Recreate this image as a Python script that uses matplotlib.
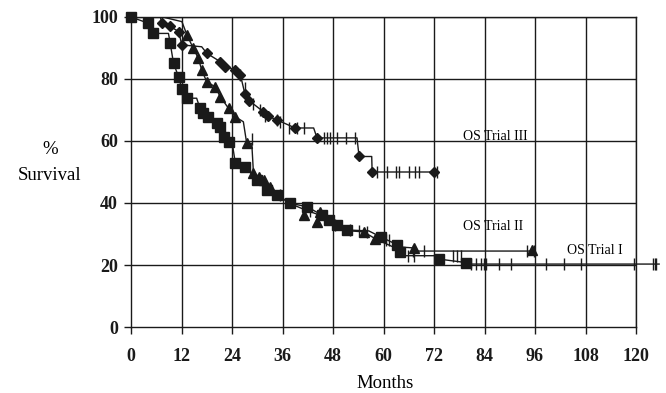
import matplotlib.pyplot as plt

# Trial I (squares): curve vertices, marked events, censor ticks
t1_months = [0, 4.1, 5.3, 8.9, 9.3, 10.1, 11.3, 12.1, 13.3, 15.6, 16.4, 17.2, 18.4, 20.4, 21.2, 22.0,
             23.2, 24.0, 24.8, 27.1, 29.9, 32.3, 34.7, 37.9, 41.8, 45.4, 47.0, 49.0, 51.3, 56.5,
             59.3, 63.3, 64.0, 65.0, 72.5, 73.2, 79.5, 80.0, 125.5]
t1_surv = [100, 98, 94.7, 94.7, 91.7, 85.1, 80.7, 76.7, 73.8, 73.8, 70.5, 68.9, 67.8, 65.7, 64.6, 61.4,
           59.8, 59.8, 52.8, 51.7, 47.4, 44.2, 42.6, 39.9, 38.8, 36.1, 34.5, 32.9, 31.3, 31.0,
           29.1, 26.5, 24.3, 23.0, 23.0, 21.9, 20.8, 20.3, 20.3]
t1_events = [0, 4.1, 5.3, 9.3, 10.1, 11.3, 12.1, 13.3, 16.4, 17.2, 18.4, 20.4, 21.2, 22.0, 23.2,
             24.8, 27.1, 29.9, 32.3, 34.7, 37.9, 41.8, 45.4, 47.0, 49.0, 51.3, 59.3, 63.3, 64.0,
             73.2, 79.5]
t1_events_surv = [100, 98, 94.7, 91.7, 85.1, 80.7, 76.7, 73.8, 70.5, 68.9, 67.8, 65.7, 64.6, 61.4, 59.8,
                  52.8, 51.7, 47.4, 44.2, 42.6, 39.9, 38.8, 36.1, 34.5, 32.9, 31.3, 29.1, 26.5, 24.3,
                  21.9, 20.8]
t1_cens = [35.5, 52.1, 54.1, 60.5, 61.2, 65.8, 67.2, 76.5, 77.5, 78.3, 80.7, 81.9, 83.1, 83.9, 84.3,
           87.5, 90.2, 98.6, 102.9, 106.9, 119.6, 124.0, 124.4, 124.8]
t1_cens_surv = [42.6, 31.3, 31.0, 28.0, 28.0, 23.0, 23.0, 23.0, 23.0, 23.0, 20.3, 20.3, 20.3, 20.3, 20.3,
                20.3, 20.3, 20.3, 20.3, 20.3, 20.3, 20.3, 20.3, 20.3]

# Trial II (triangles)
t2_months = [0, 7.5, 12.1, 13.3, 14.8, 16.0, 16.8, 18.0, 20.0, 21.2, 23.2, 24.8, 26.7, 27.5, 28.7,
             29.1, 30.3, 31.5, 33.0, 35.0, 37.5, 41.0, 45.0, 48.0, 52.0, 55.3, 58.0, 62.0, 67.2,
             67.5, 95.3]
t2_surv = [100, 100, 98.5, 94.2, 89.9, 86.7, 82.9, 79.1, 77.5, 74.3, 70.5, 67.8, 66.2, 59.2, 59.2,
           49.6, 48.5, 47.4, 45.0, 42.5, 40.0, 38.0, 36.0, 33.5, 31.0, 30.7, 28.5, 26.0, 25.5,
           24.5, 24.5]
t2_events = [13.3, 14.8, 16.0, 16.8, 18.0, 20.0, 21.2, 23.2, 24.8, 27.5, 29.1, 30.3, 31.5, 33.0,
             41.0, 44.2, 45.0, 55.3, 58.0, 67.2, 95.3]
t2_events_surv = [94.2, 89.9, 86.7, 82.9, 79.1, 77.5, 74.3, 70.5, 67.8, 59.2, 49.6, 48.5, 47.4, 45.0,
                  36.1, 34.0, 37.2, 30.7, 28.5, 25.5, 25.0]
t2_cens = [28.7, 42.5, 48.5, 56.0, 66.9, 69.6, 94.2, 95.8]
t2_cens_surv = [60.5, 37.5, 33.0, 30.8, 24.5, 24.5, 24.5, 24.5]

# Trial III (diamonds)
t3_months = [0, 7.0, 7.3, 9.3, 11.3, 12.1, 16.8, 18.0, 21.2, 22.4, 24.8, 26.0, 27.1, 28.1, 31.4,
             32.5, 34.7, 39.0, 43.4, 44.2, 53.7, 54.2, 57.2, 57.3, 72.8]
t3_surv = [100, 100, 98, 97, 95.3, 91, 90.4, 88.3, 85.6, 84, 83, 81.3, 75, 73, 69.5,
           68, 66.8, 64.2, 64.2, 61, 61, 55, 55, 50, 50]
t3_events = [7.3, 9.3, 11.3, 12.1, 18.0, 21.2, 22.4, 24.8, 26.0, 27.1, 28.1, 31.4, 32.5, 34.7,
             39.0, 44.2, 54.2, 57.3, 72.0]
t3_events_surv = [98, 97, 95.3, 91, 88.3, 85.6, 84, 83, 81.3, 75, 73, 69.5, 68, 66.8,
                  64.2, 61, 55, 50, 50]
t3_cens = [26.0, 27.0, 29.0, 30.7, 31.9, 34.7, 35.5, 37.5, 39.5, 41.0, 45.8, 46.6, 47.3, 49.0, 51.0,
           53.3, 58.5, 60.9, 62.9, 63.7, 66.0, 67.6, 68.4, 72.8]
t3_cens_surv = [81.3, 77, 72, 70, 68, 66.8, 66, 64.2, 64.2, 64.2, 61, 61, 61, 61, 61,
                61, 50, 50, 50, 50, 50, 50, 50, 50]

x_ticks = [0, 12, 24, 36, 48, 60, 72, 84, 96, 108, 120]
y_ticks = [0, 20, 40, 60, 80, 100]

col = '#1a1a1a'
plt.rcParams['font.family'] = ['Liberation Serif', 'DejaVu Serif']

fig = plt.figure(figsize=(6.66, 3.93), dpi=100)
ax = fig.add_axes([131 / 666, 66 / 393, 505 / 666, 310 / 393])

for v in x_ticks[1:]:
    ax.axvline(v, color=col, lw=1.0, zorder=1)
for v in y_ticks[1:]:
    ax.axhline(v, color=col, lw=1.0, zorder=1)

ax.plot(t1_months, t1_surv, color=col, lw=1.0, clip_on=False, zorder=3)
ax.plot(t1_events, t1_events_surv, 's', color=col, ms=6.5, clip_on=False, zorder=4)
ax.plot(t1_cens, t1_cens_surv, '|', color=col, ms=8, mew=1.0, clip_on=False, zorder=4)

ax.plot(t2_months, t2_surv, color=col, lw=1.0, zorder=3)
ax.plot(t2_events, t2_events_surv, '^', color=col, ms=6.5, zorder=4)
ax.plot(t2_cens, t2_cens_surv, '|', color=col, ms=8, mew=1.0, zorder=4)

ax.plot(t3_months, t3_surv, color=col, lw=1.0, zorder=3)
ax.plot(t3_events, t3_events_surv, 'D', color=col, ms=5, zorder=4)
ax.plot(t3_cens, t3_cens_surv, '|', color=col, ms=8, mew=1.0, zorder=4)

ax.text(79, 61.3, 'OS Trial III', fontsize=10, va='center', ha='left', zorder=5)
ax.text(79, 32.4, 'OS Trial II', fontsize=10, va='center', ha='left', zorder=5)
ax.text(103.6, 24.8, 'OS Trial I', fontsize=10, va='center', ha='left', zorder=5)

ax.set_xlim(0, 120)
ax.set_ylim(0, 100)
ax.set_xticks(x_ticks)
ax.set_yticks(y_ticks)
ax.tick_params(axis='x', length=5, width=1.0, pad=10, labelsize=13, colors=col)
ax.tick_params(axis='y', length=5, width=1.0, pad=4.5, labelsize=13, colors=col)
for lab in ax.get_xticklabels() + ax.get_yticklabels():
    lab.set_fontweight('bold')
for s in ax.spines.values():
    s.set_color(col)
    s.set_linewidth(1.0)

fig.text(50 / 666, 1 - 150 / 393, '%', fontsize=13.5, ha='center', va='center')
fig.text(50 / 666, 1 - 175 / 393, 'Survival', fontsize=13.5, ha='center', va='center')
fig.text(385 / 666, 1 - 383 / 393, 'Months', fontsize=13.5, ha='center', va='center')

fig.savefig('out.png', dpi=100)
